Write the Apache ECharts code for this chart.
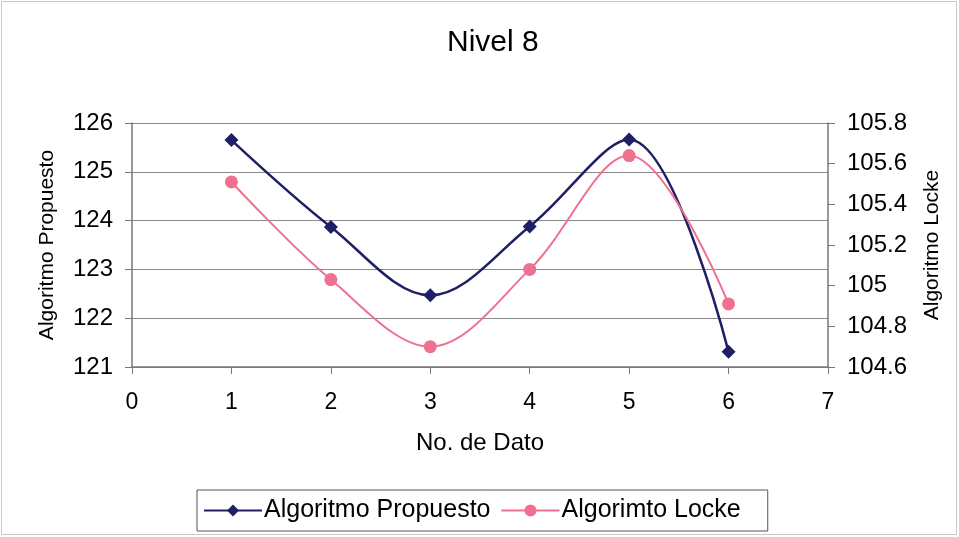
<!DOCTYPE html>
<html>
<head>
<meta charset="utf-8">
<script src="https://cdn.jsdelivr.net/npm/echarts@6/dist/echarts.min.js"></script>
<style>
  html, body { margin: 0; padding: 0; background: #fff; }
  #chart { width: 959px; height: 537px; }
</style>
</head>
<body>
<div id="chart"></div>
<script>
// Data points (No. de Dato) and the two algorithm series
const datos = [1, 2, 3, 4, 5, 6];
const propuesto = [125.65, 123.87, 122.47, 123.88, 125.66, 121.31];
const locke = [105.51, 105.03, 104.70, 105.08, 105.64, 104.91];

const font = 'Liberation Sans, Arial, sans-serif';
const chart = echarts.init(document.getElementById('chart'));

chart.setOption({
  backgroundColor: '#fff',
  animation: false,
  textStyle: { fontFamily: font, color: '#000' },
  graphic: [{
    type: 'rect',
    shape: { x: 1.5, y: 1.5, width: 955, height: 533 },
    style: { fill: 'none', stroke: '#c8c8c8', lineWidth: 1 }
  }],
  title: {
    text: 'Nivel 8',
    left: 442,
    top: 23,
    textStyle: { fontFamily: font, fontSize: 30, fontWeight: 'normal', color: '#000' }
  },
  legend: {
    left: 197,
    top: 490,
    padding: [8, 27, 8, 6],
    itemGap: 10,
    itemWidth: 58,
    itemHeight: 15,
    borderColor: '#555',
    borderWidth: 1,
    borderRadius: 0,
    textStyle: { fontFamily: font, fontSize: 25, color: '#000', padding: [0, 0, 0, -3] },
    data: ['Algoritmo Propuesto', 'Algorimto Locke']
  },
  grid: { left: 132, right: 131, top: 123, bottom: 170 },
  xAxis: {
    type: 'value',
    min: 0,
    max: 7,
    interval: 1,
    name: 'No. de Dato',
    nameLocation: 'middle',
    nameGap: 64,
    nameTextStyle: { fontFamily: font, fontSize: 24, color: '#000' },
    axisLine: { lineStyle: { color: '#777', width: 1.5 } },
    axisTick: { show: true, length: 7, lineStyle: { color: '#777' } },
    axisLabel: { fontFamily: font, fontSize: 23, color: '#000', margin: 24 },
    splitLine: { show: false }
  },
  yAxis: [{
    type: 'value',
    min: 121,
    max: 126,
    interval: 1,
    name: 'Algoritmo Propuesto',
    nameLocation: 'middle',
    nameGap: 74,
    nameRotate: 90,
    nameTextStyle: { fontFamily: font, fontSize: 21, color: '#000' },
    axisLine: { show: true, lineStyle: { color: '#777', width: 1.5 } },
    axisTick: { show: true, length: 7, lineStyle: { color: '#777' } },
    axisLabel: { fontFamily: font, fontSize: 24, color: '#000', margin: 19 },
    splitLine: { show: true, lineStyle: { color: '#8a8a8a', width: 1 } }
  }, {
    type: 'value',
    min: 104.6,
    max: 105.8,
    interval: 0.2,
    position: 'right',
    name: 'Algoritmo Locke',
    nameLocation: 'middle',
    nameGap: 94,
    nameRotate: 90,
    nameTextStyle: { fontFamily: font, fontSize: 21, color: '#000' },
    axisLine: { show: true, lineStyle: { color: '#777', width: 1.5 } },
    axisTick: { show: true, length: 7, lineStyle: { color: '#777' } },
    axisLabel: {
      fontFamily: font, fontSize: 24, color: '#000', margin: 19,
      formatter: v => String(parseFloat(v.toFixed(1)))
    },
    splitLine: { show: false }
  }],
  series: [{
    name: 'Algoritmo Propuesto',
    type: 'line',
    yAxisIndex: 0,
    smooth: 0.35,
    symbol: 'diamond',
    symbolSize: 14,
    color: '#1f1f66',
    lineStyle: { color: '#1f1f66', width: 2.5 },
    itemStyle: { color: '#1f1f66' },
    data: datos.map((x, i) => [x, propuesto[i]])
  }, {
    name: 'Algorimto Locke',
    type: 'line',
    yAxisIndex: 1,
    smooth: 0.35,
    symbol: 'circle',
    symbolSize: 13,
    color: '#f07090',
    lineStyle: { color: '#f07090', width: 2 },
    itemStyle: { color: '#f07090' },
    data: datos.map((x, i) => [x, locke[i]])
  }]
});
</script>
</body>
</html>
